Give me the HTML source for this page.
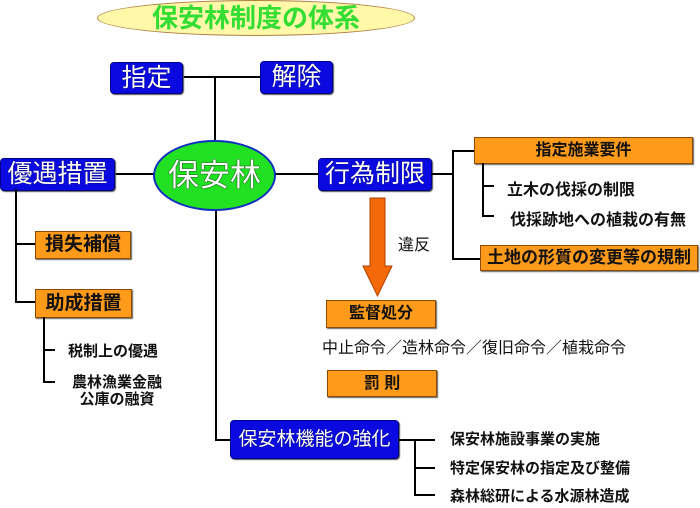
<!DOCTYPE html>
<html><head><meta charset="utf-8"><style>
body{margin:0;width:700px;height:508px;background:#fff;position:relative;overflow:hidden;font-family:"Liberation Sans","Noto Sans CJK JP",sans-serif}
.a{position:absolute}
.b{position:absolute;background:#0a0ae0;border:1px solid #00008a;border-radius:4px;color:#fff;text-align:center;font-size:25px;box-shadow:1px 1px 1px #555;text-shadow:0 0 1px #000;white-space:nowrap;overflow:hidden}
.o{position:absolute;background:#ff9a1a;border:1px solid #8a4a00;color:#111;text-align:center;font-weight:bold;box-shadow:1px 1px 1px #666;white-space:nowrap}
.h{position:absolute;background:#000;height:2px}
.v{position:absolute;background:#000;width:2px}
.t{position:absolute;font-size:15px;font-weight:bold;color:#111;white-space:nowrap}
</style></head><body>
<div class="a" style="left:97px;top:0;width:316px;height:34px;border:1px solid #b08040;border-radius:50%;background:#fff8a8;color:#33dd33;font-size:26px;text-align:center;line-height:34px;font-weight:bold">保安林制度の体系</div>

<div class="h" style="left:182px;top:76px;width:78px"></div>
<div class="v" style="left:214px;top:76px;height:66px"></div>
<div class="b" style="left:110px;top:62px;width:71px;height:30px;line-height:30px">指定</div>
<div class="b" style="left:260px;top:61px;width:71px;height:31px;line-height:31px">解除</div>

<div class="h" style="left:114px;top:173px;width:40px"></div>
<div class="h" style="left:275px;top:173px;width:44px"></div>
<div class="v" style="left:215px;top:205px;height:236px"></div>
<div class="h" style="left:215px;top:439px;width:16px"></div>
<div class="a" style="left:153px;top:140px;width:119px;height:67px;border:2px solid #1030c0;border-radius:50%;background:#22e022;color:#fff;font-size:31px;text-align:center;line-height:67px;text-shadow:0 0 1px #000,0 0 1px #000">保安林</div>
<div class="b" style="left:0;top:158px;width:113px;height:31px;line-height:31px">優遇措置</div>
<div class="b" style="left:318px;top:158px;width:112px;height:31px;line-height:31px">行為制限</div>

<div class="h" style="left:431px;top:173px;width:22px"></div>
<div class="v" style="left:452px;top:150px;height:110px"></div>
<div class="h" style="left:452px;top:150px;width:22px"></div>
<div class="h" style="left:452px;top:258px;width:28px"></div>
<div class="o" style="left:474px;top:137px;width:217px;height:25px;line-height:25px;font-size:16px">指定施業要件</div>
<div class="v" style="left:482px;top:163px;height:54px"></div>
<div class="h" style="left:482px;top:185px;width:12px"></div>
<div class="h" style="left:482px;top:215px;width:12px"></div>
<div class="t" style="left:507px;top:176px;font-size:16px">立木の伐採の制限</div>
<div class="t" style="left:510px;top:206px;font-size:16px">伐採跡地への植栽の有無</div>
<div class="o" style="left:480px;top:245px;width:216px;height:24px;line-height:24px;font-size:17px">土地の形質の変更等の規制</div>

<svg class="a" style="left:360px;top:196px" width="40" height="104"><polygon points="10,2 25,2 25,70 32,70 17.5,100 3,70 10,70" fill="#f46a0a" stroke="#b04000" stroke-width="1"/></svg>
<div class="a" style="left:398px;top:231px;font-size:16px;color:#111">違反</div>
<div class="o" style="left:326px;top:300px;width:108px;height:26px;line-height:26px;font-size:16px">監督処分</div>
<div class="a" style="left:322px;top:334px;font-size:16px;color:#111;white-space:nowrap">中止命令／造林命令／復旧命令／植栽命令</div>
<div class="o" style="left:327px;top:370px;width:108px;height:25px;line-height:25px;font-size:16px">罰 則</div>

<div class="v" style="left:15px;top:189px;height:114px"></div>
<div class="h" style="left:15px;top:243px;width:20px"></div>
<div class="h" style="left:15px;top:301px;width:20px"></div>
<div class="o" style="left:35px;top:231px;width:94px;height:26px;line-height:26px;font-size:19px">損失補償</div>
<div class="o" style="left:35px;top:289px;width:95px;height:27px;line-height:27px;font-size:19px">助成措置</div>
<div class="v" style="left:43px;top:317px;height:66px"></div>
<div class="h" style="left:43px;top:349px;width:12px"></div>
<div class="h" style="left:43px;top:381px;width:12px"></div>
<div class="t" style="left:68px;top:340px">税制上の優遇</div>
<div class="t" style="left:72px;top:374px;text-align:center;line-height:17px">農林漁業金融<br>公庫の融資</div>

<div class="b" style="left:230px;top:420px;width:167px;height:37px;line-height:37px;font-size:19px">保安林機能の強化</div>
<div class="h" style="left:398px;top:439px;width:37px"></div>
<div class="v" style="left:414px;top:439px;height:57px"></div>
<div class="h" style="left:414px;top:467px;width:21px"></div>
<div class="h" style="left:414px;top:494px;width:21px"></div>
<div class="t" style="left:450px;top:428px">保安林施設事業の実施</div>
<div class="t" style="left:450px;top:457px">特定保安林の指定及び整備</div>
<div class="t" style="left:450px;top:485px">森林総研による水源林造成</div>
</body></html>
